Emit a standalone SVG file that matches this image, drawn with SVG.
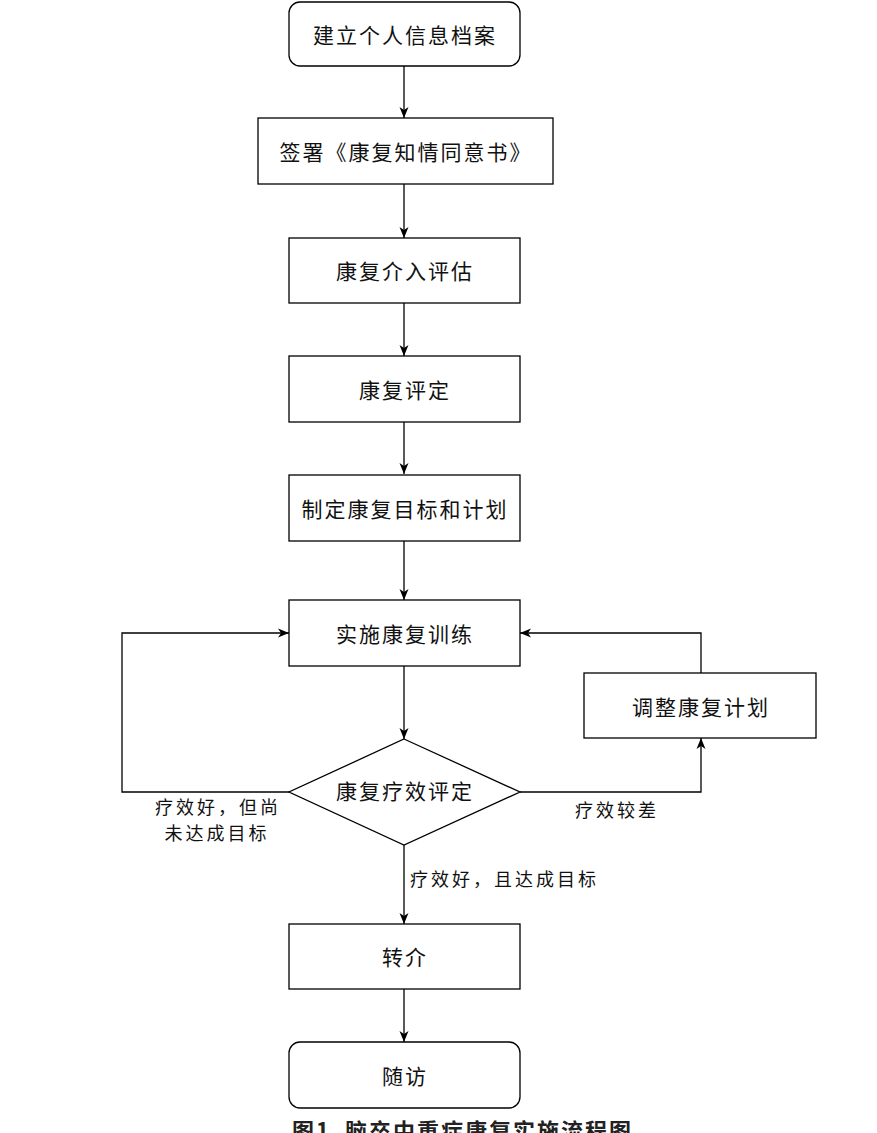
<svg xmlns="http://www.w3.org/2000/svg" width="877" height="1133" viewBox="0 0 877 1133">
<defs>
<marker id="arr" markerUnits="userSpaceOnUse" markerWidth="12" markerHeight="10" refX="11" refY="5" orient="auto">
<path d="M0,0.5 L11,5 L0,9.5 L3,5 Z" fill="#000"/>
</marker>
<style>
.box{fill:#fff;stroke:#000;stroke-width:1.3}
.t{font-family:"Noto Sans CJK SC","Noto Sans CJK JP",sans-serif;font-size:21px;letter-spacing:2px;text-anchor:middle;dominant-baseline:central;fill:#111}
.lbl{font-family:"Noto Sans CJK SC","Noto Sans CJK JP",sans-serif;font-size:18px;letter-spacing:3px;dominant-baseline:central;fill:#111}
.c{fill:none;stroke:#000;stroke-width:1.3;marker-end:url(#arr)}
.cap{font-family:"Noto Sans CJK SC",sans-serif;font-size:22px;font-weight:bold;letter-spacing:2px;fill:#222}
</style>
</defs>
<rect width="877" height="1133" fill="#fff"/>
<g id="connectors">
<path class="c" d="M404,66 V118"/>
<path class="c" d="M404,184 V238"/>
<path class="c" d="M404,303 V356"/>
<path class="c" d="M404,422 V474"/>
<path class="c" d="M404,541 V600"/>
<path class="c" d="M404,666 V739"/>
<path class="c" d="M404,845 V924"/>
<path class="c" d="M404,989 V1042"/>
<path class="c" d="M289,792 H122 V633 H289"/>
<path class="c" d="M520,792 H701 V738"/>
<path class="c" d="M701,673 V633 H520"/>
<text class="lbl" x="218" y="806" text-anchor="middle">疗效好，但尚</text>
<text class="lbl" x="217" y="832" text-anchor="middle">未达成目标</text>
<text class="lbl" x="617" y="809" text-anchor="middle">疗效较差</text>
<text class="lbl" x="410" y="878">疗效好，且达成目标</text>
</g>
<g id="n1"><rect class="box" x="289" y="2" width="231" height="64" rx="11"/><text class="t" x="405" y="34">建立个人信息档案</text></g>
<g id="n2"><rect class="box" x="258" y="118" width="295" height="66"/><text class="t" x="406" y="151">签署《康复知情同意书》</text></g>
<g id="n3"><rect class="box" x="289" y="238" width="231" height="65"/><text class="t" x="405" y="270">康复介入评估</text></g>
<g id="n4"><rect class="box" x="289" y="356" width="231" height="66"/><text class="t" x="405" y="389">康复评定</text></g>
<g id="n5"><rect class="box" x="289" y="475" width="231" height="66"/><text class="t" x="405" y="508">制定康复目标和计划</text></g>
<g id="n6"><rect class="box" x="289" y="600" width="231" height="66"/><text class="t" x="405" y="633">实施康复训练</text></g>
<g id="n7"><path class="box" d="M404,739 L520,792 L404,845 L289,792 Z"/><text class="t" x="405" y="790">康复疗效评定</text></g>
<g id="n8"><rect class="box" x="584" y="673" width="232" height="65"/><text class="t" x="701" y="706">调整康复计划</text></g>
<g id="n9"><rect class="box" x="289" y="924" width="231" height="65"/><text class="t" x="405" y="956">转介</text></g>
<g id="n10"><rect class="box" x="289" y="1042" width="231" height="66" rx="11"/><text class="t" x="405" y="1075">随访</text></g>
<text class="cap" x="292" y="1139">图1<tspan dx="14">脑卒中重症康复实施流程图</tspan></text>
</svg>
